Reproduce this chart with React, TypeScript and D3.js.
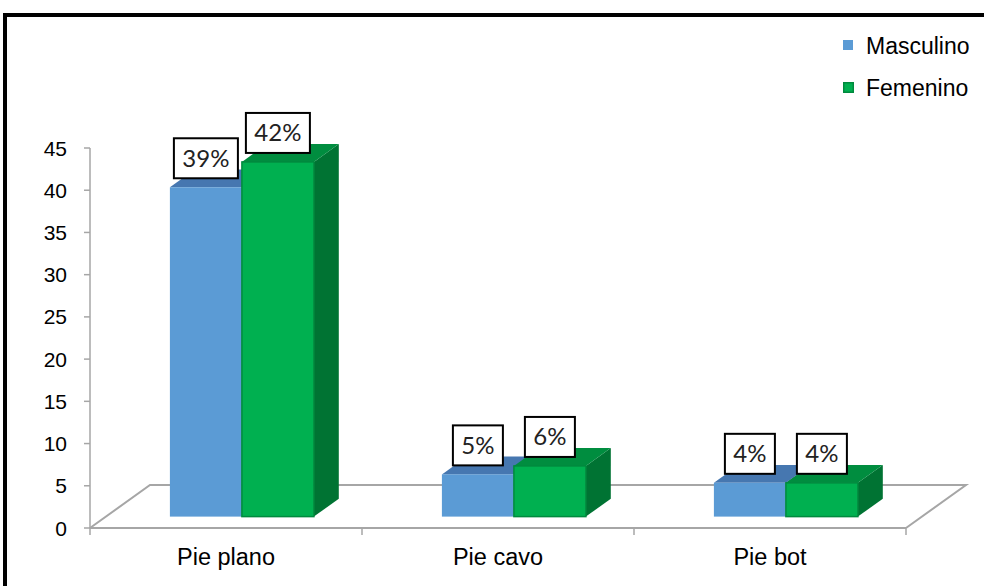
import React from "react";
import * as d3 from "d3";

// Chart data
const categories = ["Pie plano", "Pie cavo", "Pie bot"];
const seriesNames = ["Masculino", "Femenino"];
const masculino = [39, 5, 4];
const femenino = [42, 6, 4];
const masculinoLabels = ["39%", "5%", "4%"];
const femeninoLabels = ["42%", "6%", "4%"];
const yTicks = [0, 5, 10, 15, 20, 25, 30, 35, 40, 45];

const W = 984;
const H = 586;

// Plot geometry (front plane of the floor)
const x0 = 90;
const x1 = 906;
const yBottom = 528;
const yTop = 148;
// Depth vector of the 3D floor
const depthX = 60;
const depthY = -43;
// Bars sit between these fractions of the floor depth
const barFront = 0.265;
const barBack = 0.68;

const colors = {
  blueFront: "#5b9bd5",
  blueTop: "#4677b0",
  blueSide: "#3f6f9c",
  greenFront: "#00b050",
  greenEdge: "#008a3e",
  greenTop: "#008d3f",
  greenSide: "#007333",
  grid: "#a6a6a6",
};

const seriesStyles = [
  { front: colors.blueFront, top: colors.blueTop, side: colors.blueSide, edge: "none" },
  { front: colors.greenFront, top: colors.greenTop, side: colors.greenSide, edge: colors.greenEdge },
];

export default function App() {
  const y = d3.scaleLinear().domain([0, 45]).range([yBottom, yTop]);
  const xBand = d3.scaleBand<string>().domain(categories).range([x0, x1]);
  const bw = xBand.bandwidth();
  const barW = 72;

  const fx = depthX * barFront;
  const fy = depthY * barFront;
  const dx = depthX * (barBack - barFront);
  const dy = depthY * (barBack - barFront);

  const values = [masculino, femenino];
  const labels = [masculinoLabels, femeninoLabels];

  const bars: React.ReactNode[] = [];
  const boxes: React.ReactNode[] = [];
  categories.forEach((c, ci) => {
    const center = (xBand(c) as number) + bw / 2 + fx;
    values.forEach((vals, si) => {
      const v = vals[ci];
      const st = seriesStyles[si];
      const left = center + (si - 1) * barW;
      const right = left + barW;
      const base = y(0) + fy;
      const top = y(v) + fy;
      const topFace = `M${left},${top}L${right},${top}L${right + dx},${top + dy}L${left + dx},${top + dy}Z`;
      const sideFace = `M${right},${top}L${right + dx},${top + dy}L${right + dx},${base + dy}L${right},${base}Z`;
      bars.push(
        <g key={`b-${ci}-${si}`}>
          <path d={sideFace} fill={st.side} />
          <path d={topFace} fill={st.top} />
          <rect
            x={left}
            y={top}
            width={barW}
            height={base - top}
            fill={st.front}
            stroke={st.edge}
            strokeWidth={st.edge === "none" ? 0 : 1.5}
          />
        </g>
      );
      const text = labels[si][ci];
      const boxW = text.length * 14 + 22;
      const boxH = 40;
      const cx = (left + right) / 2;
      const bottom = top - 9;
      boxes.push(
        <g key={`l-${ci}-${si}`}>
          <rect
            x={cx - boxW / 2}
            y={bottom - boxH}
            width={boxW}
            height={boxH}
            fill="#ffffff"
            stroke="#000000"
            strokeWidth={2}
          />
          <text
            x={cx}
            y={bottom - boxH / 2 + 8.5}
            textAnchor="middle"
            fontFamily="Lato, 'Open Sans', sans-serif"
            fontSize={24}
            fill="#222"
          >
            {text}
          </text>
        </g>
      );
    });
  });

  const floor = [
    [x0, yBottom],
    [x1, yBottom],
    [x1 + depthX, yBottom + depthY],
    [x0 + depthX, yBottom + depthY],
  ];

  return (
    <svg
      width={W}
      height={H}
      style={{ position: "absolute", left: 0, top: 0, background: "#fff" }}
    >
      <rect x={5} y={15} width={W + 20} height={H + 20} fill="#fff" stroke="#000" strokeWidth={4} />

      {/* floor */}
      <path
        d={`M${floor[0].join(",")}L${floor[3].join(",")}L${floor[2].join(",")}L${floor[1].join(",")}`}
        fill="none"
        stroke={colors.grid}
        strokeWidth={2}
      />
      <line x1={x0} y1={yBottom} x2={x1} y2={yBottom} stroke={colors.grid} strokeWidth={2} />

      {/* value axis */}
      <line x1={x0} y1={y(0)} x2={x0} y2={y(45)} stroke={colors.grid} strokeWidth={1.5} />
      {yTicks.map((t) => (
        <g key={t}>
          <line x1={x0 - 6} y1={y(t)} x2={x0} y2={y(t)} stroke={colors.grid} strokeWidth={1.5} />
          <text
            x={67}
            y={y(t) + 7.5}
            textAnchor="end"
            fontFamily="'Liberation Sans', Arial, sans-serif"
            fontSize={21}
            fill="#000"
          >
            {t}
          </text>
        </g>
      ))}

      {/* category axis */}
      {[...categories.map((c) => xBand(c) as number), x1].map((xv, i) => (
        <line key={i} x1={xv} y1={yBottom} x2={xv} y2={yBottom + 7} stroke={colors.grid} strokeWidth={1.5} />
      ))}
      {categories.map((c) => (
        <text
          key={c}
          x={(xBand(c) as number) + bw / 2}
          y={565}
          textAnchor="middle"
          fontFamily="'Liberation Sans', Arial, sans-serif"
          fontSize={23.5}
          fill="#000"
        >
          {c}
        </text>
      ))}

      {bars}
      {boxes}

      {/* legend */}
      {seriesNames.map((name, i) => (
        <g key={name}>
          <rect
            x={i === 0 ? 843 : 843.75}
            y={i === 0 ? 40 : 82.75}
            width={i === 0 ? 10 : 9.5}
            height={i === 0 ? 10 : 9.5}
            fill={seriesStyles[i].front}
            stroke={seriesStyles[i].edge}
            strokeWidth={i === 0 ? 0 : 1.5}
          />
          <text
            x={866}
            y={i === 0 ? 54 : 96}
            fontFamily="'Liberation Sans', Arial, sans-serif"
            fontSize={23}
            fill="#000"
          >
            {name}
          </text>
        </g>
      ))}
    </svg>
  );
}
